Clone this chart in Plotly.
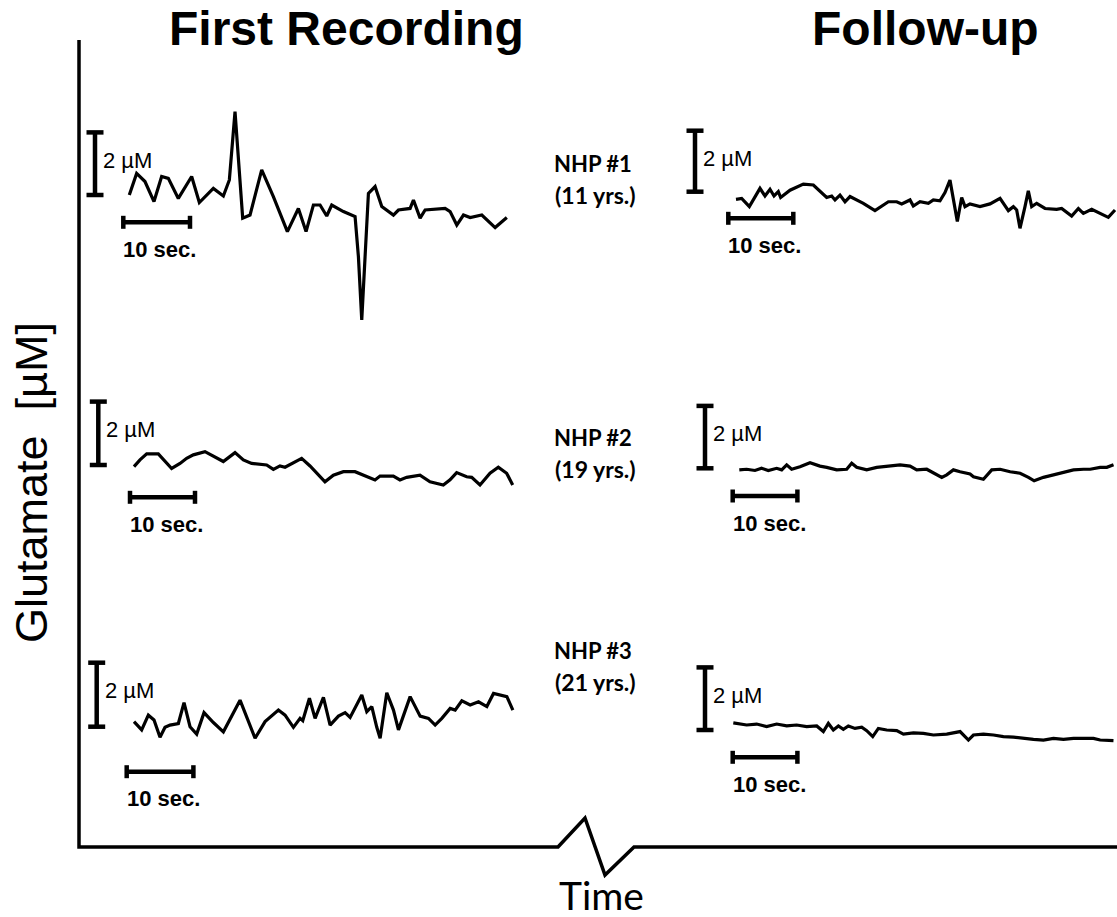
import plotly.graph_objects as go

W, H = 1117, 917

# ---- recorded glutamate traces: time (s) and change in glutamate (µM) ----
first_nhp1_t = [0, 1.1, 2.35, 3.7, 4.85, 5.85, 7.35, 9.35, 10.5, 12.6, 14.1, 15.0, 15.85, 16.1,
                17.0, 18.1, 19.85, 21.6, 23.7, 25.35, 26.5, 27.6, 28.6, 29.6, 30.35, 32.1, 33.85,
                34.35, 34.85, 35.35, 35.85, 36.85, 37.85, 39.6, 40.35, 42.1, 42.6, 43.6, 44.35,
                47.35, 48.1, 49.1, 50.1, 51.1, 52.85, 54.85, 56.6]
first_nhp1_glu = [0, 0.69, 0.43, -0.21, 0.59, 0.53, -0.11, 0.59, -0.24, 0.21, -0.03, 0.48, 2.66, 1.86,
                  -0.74, -0.64, 0.80, -0.05, -1.17, -0.43, -1.17, -0.32, -0.32, -0.67, -0.32, -0.53,
                  -0.69, -1.97, -3.99, -1.97, 0.05, 0.27, -0.37, -0.64, -0.48, -0.43, -0.16, -0.74,
                  -0.48, -0.43, -0.53, -0.96, -0.64, -0.72, -0.64, -1.04, -0.72]

follow_nhp1_t = [0, 0.87, 2.05, 3.69, 4.46, 5.23, 5.85, 6.51, 6.87, 8.31, 10.36, 11.9, 13.95, 14.72,
                 15.23, 16.0, 16.77, 17.54, 19.59, 21.38, 23.44, 24.72, 25.49, 26.77, 27.28, 28.31,
                 29.59, 30.36, 31.38, 32.15, 32.92, 33.44, 34.05, 34.72, 35.23, 36.0, 37.54, 39.08,
                 40.62, 41.9, 42.67, 43.18, 43.69, 44.46, 44.97, 45.49, 46.26, 47.54, 49.33, 50.1,
                 50.87, 51.64, 52.67, 53.44, 54.72, 56.0, 57.28, 58.31]
follow_nhp1_glu = [-0.25, -0.22, -0.49, 0.11, -0.14, 0.08, -0.14, 0.0, -0.19, 0.05, 0.25, 0.22, -0.19,
                   -0.14, -0.27, -0.11, -0.33, -0.16, -0.38, -0.62, -0.33, -0.33, -0.40, -0.27, -0.47,
                   -0.33, -0.38, -0.27, -0.30, -0.03, 0.38, -0.22, -0.98, -0.19, -0.49, -0.40, -0.49,
                   -0.40, -0.22, -0.62, -0.49, -0.60, -1.20, -0.49, 0.03, -0.49, -0.38, -0.55, -0.58,
                   -0.55, -0.66, -0.80, -0.55, -0.71, -0.58, -0.71, -0.84, -0.60]

first_nhp2_t = [0, 0.92, 1.95, 3.74, 5.79, 7.08, 8.10, 9.13, 10.92, 12.21, 13.74, 15.54, 16.82, 18.10,
                19.38, 20.41, 21.44, 22.46, 23.23, 24.51, 25.79, 27.08, 28.36, 29.38, 30.67, 32.21,
                34.0, 35.79, 37.08, 37.85, 39.9, 40.92, 41.95, 44.0, 45.54, 47.59, 48.62, 49.64,
                51.18, 51.95, 53.23, 54.77, 56.05, 57.33, 58.26]
first_nhp2_glu = [-0.05, 0.16, 0.35, 0.35, -0.11, 0.05, 0.21, 0.32, 0.42, 0.28, 0.11, 0.39, 0.16, 0.05,
                  0.03, 0.0, -0.14, -0.03, -0.07, 0.07, 0.21, -0.03, -0.32, -0.53, -0.32, -0.21,
                  -0.21, -0.35, -0.47, -0.35, -0.35, -0.47, -0.39, -0.32, -0.53, -0.63, -0.47, -0.24,
                  -0.37, -0.39, -0.63, -0.26, -0.07, -0.26, -0.63]

follow_nhp2_t = [0, 1.13, 2.42, 3.45, 4.48, 5.77, 6.55, 7.32, 8.09, 9.38, 10.93, 12.47, 13.51, 15.05,
                 16.6, 17.37, 18.14, 19.69, 21.24, 22.78, 24.85, 26.39, 27.42, 28.97, 30.0, 31.29,
                 32.06, 33.09, 34.12, 35.67, 36.19, 37.73, 39.02, 40.31, 41.86, 43.4, 44.69, 45.57,
                 47.01, 48.56, 50.1, 51.65, 53.2, 54.23, 55.77, 56.8, 57.84]
follow_nhp2_glu = [-0.05, -0.03, -0.07, 0.0, -0.07, 0.0, -0.05, 0.11, -0.03, 0.05, 0.18, 0.07, 0.03,
                   -0.05, -0.03, 0.16, 0.03, -0.05, 0.03, 0.07, 0.11, 0.07, -0.05, -0.03, -0.14, -0.29,
                   -0.21, -0.05, -0.11, -0.18, -0.27, -0.35, -0.05, -0.03, -0.11, -0.16, -0.29, -0.40,
                   -0.29, -0.21, -0.11, -0.05, -0.03, -0.03, 0.03, 0.03, 0.11]

first_nhp3_t = [0, 1.15, 2.15, 3.0, 3.9, 4.65, 5.4, 6.65, 7.5, 8.4, 9.4, 10.5, 11.9, 13.4, 15.9, 18.15,
                19.65, 21.65, 22.65, 23.9, 24.9, 25.3, 26.3, 27.15, 28.4, 29.4, 30.65, 31.65, 32.4,
                34.15, 34.9, 35.65, 36.4, 36.9, 37.9, 38.9, 39.65, 41.4, 42.9, 44.15, 45.15, 46.15,
                47.4, 48.15, 49.15, 50.4, 51.65, 52.9, 53.9, 54.9, 55.9, 56.8]
first_nhp3_glu = [0.16, -0.10, 0.36, 0.21, -0.33, -0.02, 0.05, 0.10, 0.75, 0.0, -0.23, 0.44, 0.13,
                  -0.16, 0.83, -0.36, 0.16, 0.52, 0.36, -0.02, 0.26, 0.19, 0.89, 0.26, 0.92, 0.05,
                  0.33, 0.44, 0.29, 0.99, 0.47, 0.63, -0.02, -0.36, 1.06, 0.52, -0.10, 0.94, 0.33,
                  0.26, 0.05, 0.26, 0.57, 0.52, 0.81, 0.68, 0.78, 0.63, 1.04, 0.99, 0.94, 0.52]

follow_nhp3_t = [0, 2.06, 3.61, 5.15, 6.7, 8.25, 9.79, 11.34, 12.89, 13.92, 14.69, 15.46, 16.24, 17.01,
                 17.78, 18.81, 19.85, 20.62, 21.55, 22.42, 23.71, 25.26, 26.29, 27.84, 29.38, 30.93,
                 32.99, 35.05, 35.82, 36.34, 37.11, 38.66, 40.21, 41.75, 43.3, 44.85, 46.39, 47.94,
                 49.48, 51.03, 52.58, 54.12, 55.67, 56.7, 58.76]
follow_nhp3_glu = [0.23, 0.16, 0.19, 0.11, 0.19, 0.13, 0.16, 0.11, 0.13, -0.05, 0.21, 0.0, 0.13, 0.02,
                   0.13, 0.05, 0.09, -0.02, -0.21, 0.05, 0.0, -0.02, -0.13, -0.09, -0.11, -0.16, -0.13,
                   -0.05, -0.21, -0.32, -0.16, -0.13, -0.16, -0.21, -0.23, -0.27, -0.30, -0.32, -0.27,
                   -0.30, -0.27, -0.27, -0.27, -0.32, -0.34]

# ---- labels ----
column_titles = ["First Recording", "Follow-up"]
subject_names = ["NHP #1", "NHP #2", "NHP #3"]
subject_ages = ["(11 yrs.)", "(19 yrs.)", "(21 yrs.)"]
conc_bar_value, conc_bar_label = 2, "2 µM"
time_bar_value, time_bar_label = 10, "10 sec."
y_title, x_title = "Glutamate  [µM]", "Time"

# ---- panel layout: pixel origin of (t=0, 0 µM), px per second, px per µM,
#      and pixel placement of the two scale bars ----
panels = [
    dict(t=first_nhp1_t, g=first_nhp1_glu, x0=129.3, y0=195.0, pxs=6.67, pxu=31.3,
         vbar_x=95.0, hbar_x=123.3, hbar_y=222.3),
    dict(t=follow_nhp1_t, g=follow_nhp1_glu, x0=736.0, y0=191.7, pxs=6.5, pxu=30.5,
         vbar_x=695.0, hbar_x=728.3, hbar_y=218.3),
    dict(t=first_nhp2_t, g=first_nhp2_glu, x0=134.0, y0=465.0, pxs=6.5, pxu=31.7,
         vbar_x=98.3, hbar_x=130.0, hbar_y=497.3),
    dict(t=follow_nhp2_t, g=follow_nhp2_glu, x0=739.3, y0=468.3, pxs=6.47, pxu=31.2,
         vbar_x=705.0, hbar_x=732.7, hbar_y=496.0),
    dict(t=first_nhp3_t, g=first_nhp3_glu, x0=134.0, y0=726.7, pxs=6.67, pxu=32.0,
         vbar_x=96.7, hbar_x=126.7, hbar_y=771.7),
    dict(t=follow_nhp3_t, g=follow_nhp3_glu, x0=733.3, y0=730.0, pxs=6.47, pxu=31.3,
         vbar_x=705.0, hbar_x=732.7, hbar_y=757.3),
]

fig = go.Figure()
layout_axes = {}
annotations = []
LABEL_FONT = "Liberation Sans, Arial, sans-serif"
CAL_FONT = "Lato, Open Sans, sans-serif"

for i, p in enumerate(panels, start=2):
    xa, ya = f"x{i}", f"y{i}"
    pxs, pxu, x0, y0 = p["pxs"], p["pxu"], p["x0"], p["y0"]
    layout_axes[f"xaxis{i}"] = dict(range=[-x0 / pxs, (W - x0) / pxs], overlaying="x",
                                    visible=False, fixedrange=True)
    layout_axes[f"yaxis{i}"] = dict(range=[(y0 - H) / pxu, y0 / pxu], overlaying="y",
                                    visible=False, fixedrange=True)
    # signal trace
    fig.add_trace(go.Scatter(x=p["t"], y=p["g"], xaxis=xa, yaxis=ya, mode="lines",
                             line=dict(color="black", width=3.2), hoverinfo="skip",
                             showlegend=False))
    # vertical concentration scale bar with end caps
    vt = (p["vbar_x"] - x0) / pxs
    cw = 8.5 / pxs
    fig.add_trace(go.Scatter(
        x=[vt, vt, None, vt - cw, vt + cw, None, vt - cw, vt + cw],
        y=[0, conc_bar_value, None, conc_bar_value, conc_bar_value, None, 0, 0],
        xaxis=xa, yaxis=ya, mode="lines", line=dict(color="black", width=4.5),
        hoverinfo="skip", showlegend=False))
    # horizontal time scale bar with end caps
    ht = (p["hbar_x"] - x0) / pxs
    hv = (y0 - p["hbar_y"]) / pxu
    ch = 6.5 / pxu
    fig.add_trace(go.Scatter(
        x=[ht, ht + time_bar_value, None, ht, ht, None, ht + time_bar_value, ht + time_bar_value],
        y=[hv, hv, None, hv - ch, hv + ch, None, hv - ch, hv + ch],
        xaxis=xa, yaxis=ya, mode="lines", line=dict(color="black", width=4.5),
        hoverinfo="skip", showlegend=False))
    # scale bar labels (pixel coordinates on the base axes)
    vbar_top = y0 - conc_bar_value * pxu
    annotations.append(dict(x=p["vbar_x"] + 6, y=vbar_top + 28, xref="x", yref="y",
                            text=conc_bar_label, showarrow=False, xanchor="left",
                            yanchor="middle", font=dict(family=LABEL_FONT, size=22,
                                                        color="black")))
    annotations.append(dict(x=p["hbar_x"] - 2, y=p["hbar_y"] + 27, xref="x", yref="y",
                            text=f"<b>{time_bar_label}</b>", showarrow=False, xanchor="left",
                            yanchor="middle", font=dict(family=LABEL_FONT, size=22,
                                                        color="black")))

# column titles
for txt, cx in zip(column_titles, [346, 925]):
    annotations.append(dict(x=cx, y=28, xref="x", yref="y", text=f"<b>{txt}</b>",
                            showarrow=False, xanchor="center", yanchor="middle",
                            font=dict(family=LABEL_FONT, size=48, color="black")))

# subject labels between the columns
for name, age, cy in zip(subject_names, subject_ages, [163, 437, 650]):
    annotations.append(dict(x=593, y=cy, xref="x", yref="y", text=f"<b>{name}</b>",
                            showarrow=False, xanchor="center", yanchor="middle",
                            font=dict(family=CAL_FONT, size=22, color="black")))
    annotations.append(dict(x=595, y=cy + 32, xref="x", yref="y", text=f"<b>{age}</b>",
                            showarrow=False, xanchor="center", yanchor="middle",
                            font=dict(family=CAL_FONT, size=23, color="black")))

# axis titles
annotations.append(dict(x=31, y=483, xref="x", yref="y", text=y_title, textangle=-90,
                        showarrow=False, xanchor="center", yanchor="middle",
                        font=dict(family=LABEL_FONT, size=45, color="black")))
annotations.append(dict(x=601, y=895, xref="x", yref="y", text=x_title, showarrow=False,
                        xanchor="center", yanchor="middle",
                        font=dict(family=CAL_FONT, size=39, color="black")))

# axes frame: vertical axis and broken time axis
axis_x = [79, 79, 558, 585, 605, 634, W]
axis_y = [40, 847, 847, 818, 875, 847, 847]
fig.add_trace(go.Scatter(x=axis_x, y=axis_y, xaxis="x", yaxis="y", mode="lines",
                         line=dict(color="black", width=3.5), hoverinfo="skip",
                         showlegend=False))

fig.update_layout(
    width=W, height=H, autosize=False,
    margin=dict(l=0, r=0, t=0, b=0),
    paper_bgcolor="white", plot_bgcolor="white",
    xaxis=dict(range=[0, W], visible=False, fixedrange=True),
    yaxis=dict(range=[H, 0], visible=False, fixedrange=True),
    annotations=annotations,
    **layout_axes,
)

fig.write_html("out.html")
